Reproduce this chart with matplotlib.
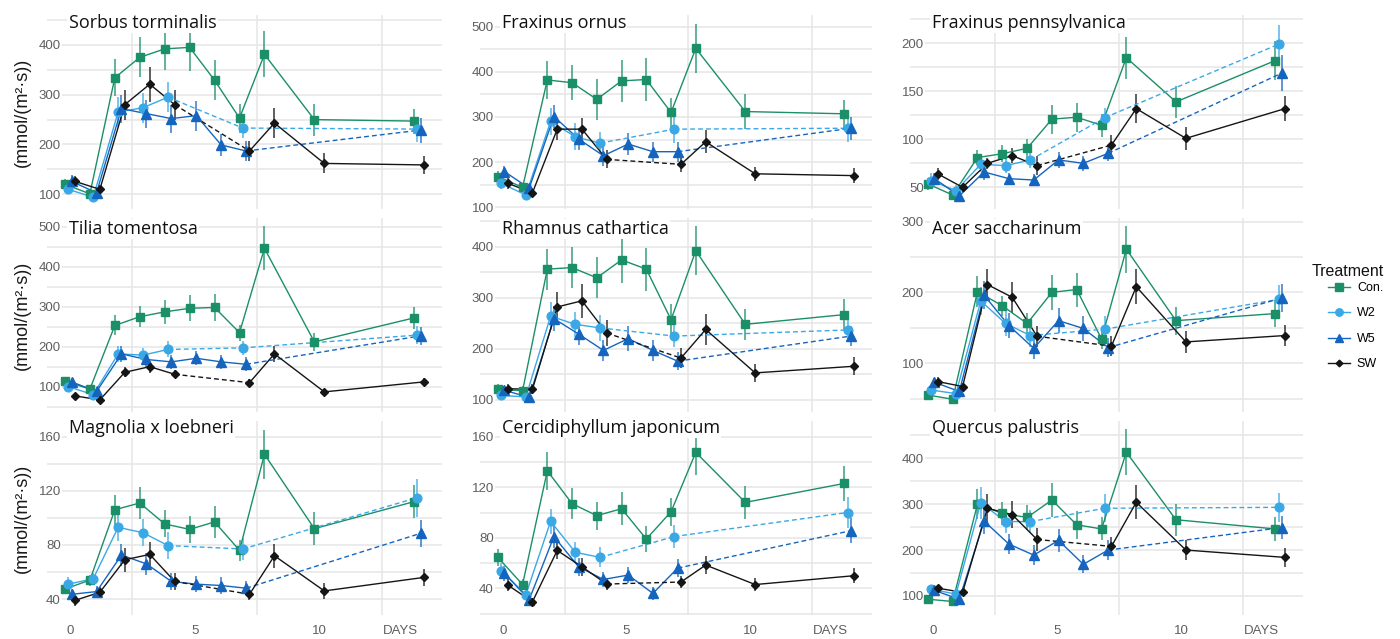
import numpy as np
import matplotlib
matplotlib.use("Agg")
import matplotlib.pyplot as plt
import matplotlib.transforms as mtransforms
from matplotlib.lines import Line2D
from matplotlib.ticker import MultipleLocator, FixedLocator

N = np.nan

# ---------------------------------------------------------------- data
days = [0, 1, 2, 3, 4, 5, 6, 7, 8, 10, 14]
treatments = ["Con.", "W2", "W5", "SW"]
x_tick_values = [0, 5, 10, 13.25]
x_tick_labels = ["0", "5", "10", "DAYS"]

sorbus_mean = {
    "Con.": [120, 101, 334, 375, 392, 395, 329, 253, 381, 250, 247],
    "W2":   [110, 94, 265, 274, 295, N, N, 233, N, N, 231],
    "W5":   [126, 103, 272, 262, 252, 258, 199, 187, N, N, 229],
    "SW":   [126, 110, 280, 321, 280, N, N, 187, 243, 162, 159],
}
sorbus_err = {
    "Con.": [10, 8, 37, 40, 42, 47, 40, 29, 46, 32, 25],
    "W2":   [10, 8, 30, 30, 30, N, N, 20, N, N, 25],
    "W5":   [12, 10, 28, 28, 28, 30, 22, 20, N, N, 25],
    "SW":   [10, 8, 30, 35, 30, N, N, 20, 30, 20, 18],
}

ornus_mean = {
    "Con.": [168, 144, 382, 376, 339, 380, 383, 310, 452, 312, 307],
    "W2":   [153, 127, 290, 256, 242, N, N, 273, N, N, 275],
    "W5":   [179, 142, 301, 251, 214, 240, 223, 223, N, N, 275],
    "SW":   [153, 132, 273, 273, 206, N, N, 195, 245, 174, 170],
}
ornus_err = {
    "Con.": [12, 10, 42, 39, 45, 47, 48, 33, 55, 38, 31],
    "W2":   [12, 10, 30, 30, 25, N, N, 30, N, N, 30],
    "W5":   [12, 10, 25, 25, 22, 25, 22, 22, N, N, 25],
    "SW":   [12, 10, 25, 25, 20, N, N, 18, 25, 15, 16],
}

penn_mean = {
    "Con.": [53.5, 42, 81, 85, 90.6, 121, 123, 114.6, 185, 139, 182],
    "W2":   [57, 46.5, 74, 72.6, 78.5, N, N, 122.6, N, N, 199],
    "W5":   [59, 41, 66, 59, 57.6, 78.5, 75, 85.4, N, N, 169],
    "SW":   [64, 50, 75, 83, 72.6, N, N, 94, 132, 101, 132],
}
penn_err = {
    "Con.": [6, 4, 8, 9, 10, 15, 15, 12, 22, 17, 20],
    "W2":   [8, 6, 8, 8, 8, N, N, 10, N, N, 20],
    "W5":   [6, 5, 8, 6, 6, 8, 8, 8, N, N, 19],
    "SW":   [6, 5, 6, 8, 10, N, N, 10, 15, 12, 13],
}

tilia_mean = {
    "Con.": [114, 94, 253, 275, 287, 296, 298, 235, 446, 212, 272],
    "W2":   [100, 80, 182, 179, 193, N, N, 197, N, N, 229],
    "W5":   [112, 88, 182, 168, 162, 171, 162, 156, N, N, 227],
    "SW":   [77, 67, 136, 150, 131, N, N, 110, 182, 87, 112],
}
tilia_err = {
    "Con.": [8, 8, 25, 27, 30, 32, 33, 20, 55, 22, 27],
    "W2":   [10, 8, 20, 18, 20, N, N, 18, N, N, 22],
    "W5":   [10, 8, 20, 18, 18, 18, 18, 18, N, N, 22],
    "SW":   [8, 6, 13, 15, 10, N, N, 10, 20, 8, 10],
}

rhamnus_mean = {
    "Con.": [121, 118, 356, 359, 339, 374, 356, 257, 392, 248, 267],
    "W2":   [109, 106, 264, 248, 241, N, N, 225, N, N, 237],
    "W5":   [119, 105, 259, 229, 197, 220, 197, 176, N, N, 225],
    "SW":   [122, 121, 282, 294, 231, N, N, 182, 238, 153, 166],
}
rhamnus_err = {
    "Con.": [10, 10, 40, 40, 40, 45, 42, 30, 48, 30, 30],
    "W2":   [8, 8, 28, 25, 25, N, N, 22, N, N, 22],
    "W5":   [8, 8, 25, 22, 20, 25, 20, 18, N, N, 20],
    "SW":   [10, 10, 30, 33, 25, N, N, 20, 30, 18, 18],
}

acer_mean = {
    "Con.": [55, 49, 201, 181, 156, 200, 204, 134, 261, 160, 170],
    "W2":   [62, 57, 188, 156, 139, N, N, 148, N, N, 190],
    "W5":   [73, 60, 196, 153, 121, 160, 149, 122, N, N, 192],
    "SW":   [74, 67, 211, 193, 138, N, N, 124, 208, 130, 139],
}
acer_err = {
    "Con.": [5, 4, 22, 14, 15, 25, 24, 14, 33, 20, 19],
    "W2":   [6, 5, 20, 18, 16, N, N, 18, N, N, 20],
    "W5":   [6, 5, 20, 18, 15, 18, 18, 14, N, N, 20],
    "SW":   [6, 5, 22, 22, 15, N, N, 14, 25, 15, 15],
}

magnolia_mean = {
    "Con.": [47.4, 54, 106, 111, 95.5, 91.5, 97, 76, 147, 92, 112],
    "W2":   [51, 55, 93, 89, 79.5, N, N, 77, N, N, 115],
    "W5":   [43.5, 45.5, 72.5, 66, 53, 51, 50, 48, N, N, 88.6],
    "SW":   [39, 45, 69, 73, 53, N, N, 43.5, 72, 46, 56],
}
magnolia_err = {
    "Con.": [4, 4, 11, 12, 10, 10, 12, 8, 18, 12, 12],
    "W2":   [5, 4, 10, 10, 10, N, N, 8, N, N, 14],
    "W5":   [4, 4, 8, 8, 6, 6, 6, 5, N, N, 10],
    "SW":   [4, 4, 9, 9, 6, N, N, 4, 9, 6, 6],
}

cercis_mean = {
    "Con.": [64.5, 43, 133, 107, 97.5, 103, 79, 100.6, 147.6, 108, 123],
    "W2":   [54, 35, 93, 68.5, 64.5, N, N, 81, N, N, 100],
    "W5":   [52, 31, 81, 57, 47, 50.5, 36, 56, N, N, 85.6],
    "SW":   [42.6, 29.4, 70, 57, 43.4, N, N, 45, 58.4, 43, 50],
}
cercis_err = {
    "Con.": [7, 4, 15, 12, 11, 13, 10, 11, 18, 13, 14],
    "W2":   [6, 4, 10, 8, 8, N, N, 9, N, N, 12],
    "W5":   [6, 4, 9, 7, 6, 6, 5, 7, N, N, 10],
    "SW":   [5, 3, 7, 7, 5, N, N, 5, 7, 5, 6],
}

quercus_mean = {
    "Con.": [93, 88, 300, 280, 271, 309, 255, 246, 413, 266, 246],
    "W2":   [115, 104, 303, 262, 262, N, N, 291, N, N, 293],
    "W5":   [112, 93, 263, 213, 189, 221, 169, 200, N, N, 249],
    "SW":   [117, 108, 291, 277, 223, N, N, 208, 304, 200, 184],
}
quercus_err = {
    "Con.": [5, 6, 33, 25, 27, 37, 30, 25, 50, 35, 27],
    "W2":   [10, 8, 35, 25, 25, N, N, 30, N, N, 32],
    "W5":   [8, 8, 28, 22, 22, 25, 20, 22, N, N, 25],
    "SW":   [8, 8, 30, 30, 25, N, N, 20, 37, 22, 20],
}

panels = [
    ("Sorbus torminalis", sorbus_mean, sorbus_err),
    ("Fraxinus ornus", ornus_mean, ornus_err),
    ("Fraxinus pennsylvanica", penn_mean, penn_err),
    ("Tilia tomentosa", tilia_mean, tilia_err),
    ("Rhamnus cathartica", rhamnus_mean, rhamnus_err),
    ("Acer saccharinum", acer_mean, acer_err),
    ("Magnolia x loebneri", magnolia_mean, magnolia_err),
    ("Cercidiphyllum japonicum", cercis_mean, cercis_err),
    ("Quercus palustris", quercus_mean, quercus_err),
]

# ---------------------------------------------------------------- style
W, H = 1400, 639
colors = {"Con.": "#1b8f68", "W2": "#3ba8e6", "W5": "#1565bf", "SW": "#151515"}
markers = {"Con.": "s", "W2": "o", "W5": "^", "SW": "D"}
msizes = {"Con.": 6.3, "W2": 6.3, "W5": 6.8, "SW": 4.0}
dodge = {"Con.": -0.2, "W2": -0.067, "W5": 0.067, "SW": 0.2}

col_px = [(47, 442), (480, 872), (910, 1303)]        # left, right
row_px = [(15, 209), (218, 412), (421, 615)]         # top, bottom
title_baseline = [27.5, 234, 433]
y_steps = [100, 100, 50, 100, 100, 100, 40, 40, 100]
y_limits = [(70.5, 460), (96, 526), (27.4, 229.5),
            (36.7, 521.7), (76.5, 456), (31, 305),
            (28.2, 171.6), (18.9, 172.4), (58.6, 481)]

GRID = "#e6e6e6"
TICK = "#5f5f5f"

plt.rcParams["font.family"] = ["Liberation Sans", "DejaVu Sans"]

fig = plt.figure(figsize=(W / 100, H / 100), dpi=100)


def draw_series(ax, vals, errs, name):
    x = np.asarray(days, float) + dodge[name]
    y = np.asarray(vals, float)
    e = np.asarray(errs, float)
    c = colors[name]
    idx = np.flatnonzero(~np.isnan(y))
    ax.errorbar(x[idx], y[idx], yerr=e[idx], fmt="none", ecolor=c,
                elinewidth=1.2, alpha=0.8, zorder=2)
    # consecutive sampling days are joined with solid lines,
    # skipped days with a dashed bridge
    run = [idx[0]]
    for a, b in zip(idx[:-1], idx[1:]):
        if b - a == 1:
            run.append(b)
        else:
            if len(run) > 1:
                ax.plot(x[run], y[run], "-", color=c, lw=1.0, zorder=3)
            ax.plot(x[[a, b]], y[[a, b]], color=c, lw=1.0,
                    linestyle=(0, (3.5, 2.2)), zorder=3)
            run = [b]
    if len(run) > 1:
        ax.plot(x[run], y[run], "-", color=c, lw=1.0, zorder=3)
    ax.plot(x[idx], y[idx], linestyle="none", marker=markers[name],
            ms=msizes[name], color=c, mec=c, zorder=4)


for k, (title, mean, err) in enumerate(panels):
    r, cidx = divmod(k, 3)
    L, R = col_px[cidx]
    T, B = row_px[r]
    ax = fig.add_axes([L / W, 1 - B / H, (R - L) / W, (B - T) / H])
    for s in ax.spines.values():
        s.set_visible(False)
    ax.set_facecolor("white")

    for name in treatments:
        draw_series(ax, mean[name], err[name], name)

    ax.set_xlim(-0.92, 14.92)
    ax.set_ylim(*y_limits[k])

    # x: labelled ticks without grid, grid on the half-steps
    ax.xaxis.set_major_locator(FixedLocator(x_tick_values))
    ax.set_xticklabels(x_tick_labels)
    ax.xaxis.set_minor_locator(FixedLocator([0, 2.5, 5, 7.5, 10, 12.5]))
    ax.xaxis.grid(False, which="major")
    ax.xaxis.grid(True, which="minor", color=GRID, lw=1.1)
    ax.tick_params(axis="x", which="both", length=0, pad=7,
                   labelsize=9.5, labelcolor=TICK, labelbottom=(r == 2))

    step = y_steps[k]
    ax.yaxis.set_major_locator(MultipleLocator(step))
    ax.yaxis.set_minor_locator(MultipleLocator(step / 2))
    ax.yaxis.grid(True, which="both", color=GRID, lw=1.1)
    ax.tick_params(axis="y", which="both", length=0, pad=-10,
                   labelsize=9.5, labelcolor=TICK)
    for lab in ax.get_yticklabels():
        lab.set_bbox(dict(facecolor="white", edgecolor="none", pad=0.5))
    ax.set_axisbelow(True)

    trans = mtransforms.blended_transform_factory(ax.transData, ax.transAxes)
    ax.text(-0.05, (B - title_baseline[r]) / (B - T), title, transform=trans,
            ha="left", va="baseline", fontsize=13, family="Open Sans",
            color="#111111", zorder=6,
            bbox=dict(facecolor="white", edgecolor="none", pad=1.0))

    if cidx == 0:
        fig.text(22 / W, 1 - (T + B) / 2 / H, "(mmol/(m²·s))", rotation=90,
                 ha="center", va="center", fontsize=13, color="#1a1a1a")

# legend
fig.text(1312 / W, 1 - 276 / H, "Treatment", ha="left", va="baseline",
         fontsize=11.5, color="#111111")
handles = [Line2D([], [], color=colors[n], marker=markers[n], ms=msizes[n] * 0.85,
                  lw=1.0) for n in treatments]
fig.legend(handles, treatments, loc="upper left",
           bbox_to_anchor=(1328 / W, 1 - 282 / H), frameon=False,
           fontsize=9, borderpad=0, borderaxespad=0, handlelength=1.76,
           handletextpad=0.55, labelspacing=1.08)

fig.savefig("out.png", dpi=100, facecolor="white")
